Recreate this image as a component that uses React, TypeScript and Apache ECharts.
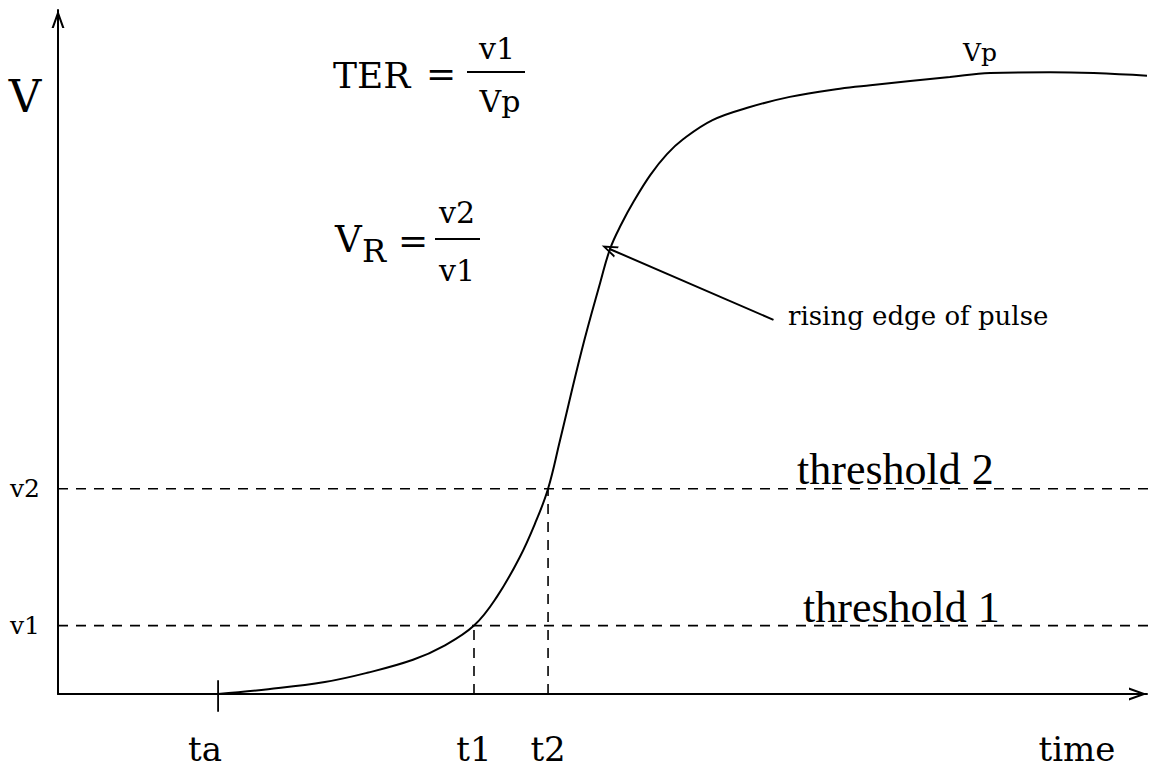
import React, { useEffect, useRef } from "react";
import * as echarts from "echarts";

// ---- data (arbitrary units: time 0..100, voltage 0..100) ----
const timeTickValues = [14.7, 38.2, 45.0];
const timeTickLabels = ["ta", "t1", "t2"];
const levelValues = [10, 30];
const levelLabels = ["v1", "v2"];

const pulseTime = [
  14.7, 19.3, 24.5, 28.4, 32.6, 35.4, 38.2, 40.3, 42.4, 43.9, 45.0, 46.1, 48.1,
  49.8, 50.7, 51.7, 52.9, 54.4, 55.9, 57.4, 60.1, 63.3, 67.2, 71.8, 74.6, 81.9,
  85.6, 91.1, 100,
];
const pulseVolt = [
  0, 0.7, 1.75, 3.1, 5.0, 7.0, 10, 14.2, 20.0, 25.3, 30, 37.1, 50.3, 60.2, 65.1,
  68.6, 72.1, 75.9, 78.9, 81.1, 83.9, 85.7, 87.3, 88.5, 89.0, 90.2, 90.8, 90.9,
  90.4,
];
const pointerFrom = [65.7, 54.7];
const pointerTo = [50.6, 65.1];

const SERIF = "'DejaVu Serif', serif";
const TIMES = "'Liberation Serif', serif";
const ARROW = "path://M5,0 L10,14 L8.3,14 L5,4.6 L1.7,14 L0,14 Z";

export default function App() {
  const ref = useRef<HTMLDivElement>(null);
  useEffect(() => {
    if (!ref.current) return;
    const chart = echarts.init(ref.current, undefined, { renderer: "svg" });
    const labelOf = (vals: number[], labels: string[]) => (v: number) => {
      const i = vals.findIndex((x) => Math.abs(x - v) < 1e-6);
      return i >= 0 ? labels[i] : "";
    };
    const dashed = { color: "#000", width: 1.6, type: [10, 8] as any };
    const txt = (
      text: string,
      x: number,
      y: number,
      fontSize: number,
      align = "left",
      fontFamily = SERIF
    ) => ({
      type: "text",
      x,
      y,
      silent: true,
      style: { text, fontSize, fontFamily, fill: "#000", align, verticalAlign: "middle" },
    });
    const bar = (x1: number, x2: number, y: number) => ({
      type: "line",
      silent: true,
      shape: { x1, y1: y, x2, y2: y },
      style: { stroke: "#000", lineWidth: 2 },
    });
    chart.setOption({
      animation: false,
      backgroundColor: "#fff",
      textStyle: { fontFamily: SERIF, color: "#000" },
      grid: { left: 58, right: 8, top: 10, bottom: 76 },
      xAxis: {
        type: "value",
        min: 0,
        max: 100,
        splitLine: { show: false },
        axisTick: { show: false },
        axisLine: {
          show: true,
          lineStyle: { color: "#000", width: 2 },
          symbol: ["none", ARROW],
          symbolSize: [13, 18],
          symbolOffset: [0, -9],
        },
        axisLabel: {
          customValues: timeTickValues,
          formatter: (v: number) => {
            const s = labelOf(timeTickValues, timeTickLabels)(v);
            return s === "ta" ? "{a|ta}" : s;
          },
          rich: { a: { fontSize: 34, fontFamily: SERIF, color: "#000", padding: [0, 26, 0, 0] } },
          fontSize: 34,
          color: "#000",
          verticalAlign: "middle",
          margin: 55,
        },
      },
      yAxis: {
        type: "value",
        min: 0,
        max: 100,
        splitLine: { show: false },
        axisTick: { show: false },
        axisLine: {
          show: true,
          lineStyle: { color: "#000", width: 2 },
          symbol: ["none", ARROW],
          symbolSize: [13, 18],
          symbolOffset: [0, -9],
        },
        axisLabel: {
          customValues: levelValues,
          formatter: labelOf(levelValues, levelLabels),
          fontSize: 25,
          color: "#000",
          margin: 18,
        },
      },
      series: [
        {
          name: "pulse",
          type: "line",
          data: pulseTime.map((t, i) => [t, pulseVolt[i]]),
          smooth: 0.4,
          showSymbol: false,
          lineStyle: { color: "#000", width: 2 },
          markLine: {
            silent: true,
            symbol: ["none", ARROW],
            symbolSize: [12, 16],
            lineStyle: { color: "#000", width: 2, type: "solid" },
            label: { show: false },
            data: [[{ coord: pointerFrom }, { coord: pointerTo }]],
          },
        },
        {
          name: "threshold 1",
          type: "line",
          data: [[0, levelValues[0]], [100.7, levelValues[0]]],
          showSymbol: false,
          clip: false,
          lineStyle: dashed,
        },
        {
          name: "threshold 2",
          type: "line",
          data: [[0, levelValues[1]], [100.7, levelValues[1]]],
          showSymbol: false,
          clip: false,
          lineStyle: dashed,
        },
        {
          name: "t1 drop",
          type: "line",
          data: [[timeTickValues[1], 0], [timeTickValues[1], levelValues[0]]],
          showSymbol: false,
          lineStyle: dashed,
        },
        {
          name: "t2 drop",
          type: "line",
          data: [[timeTickValues[2], 0], [timeTickValues[2], levelValues[1]]],
          showSymbol: false,
          lineStyle: dashed,
        },
        {
          name: "ta tick",
          type: "line",
          data: [[timeTickValues[0], -2.6], [timeTickValues[0], 2.0]],
          showSymbol: false,
          clip: false,
          lineStyle: { color: "#000", width: 1.8 },
        },
      ],
      graphic: [
        txt("V", 25, 96, 45, "center"),
        txt("time", 1077, 749, 34, "center"),
        txt("Vp", 980, 52, 25, "center"),
        txt("threshold 2", 797, 469, 44, "left", TIMES),
        txt("threshold 1", 803, 607, 44, "left", TIMES),
        txt("rising edge of pulse", 788, 316, 26, "left"),
        // TER = v1 / Vp
        txt("TER", 333, 75, 36),
        txt("=", 441, 73, 36, "center"),
        bar(467, 525, 72),
        txt("v1", 497, 48, 30, "center"),
        txt("Vp", 500, 101, 30, "center"),
        // V_R = v2 / v1
        txt("V", 335, 239, 37),
        txt("R", 362, 251, 32),
        txt("=", 413, 240, 36, "center"),
        bar(435, 480, 239),
        txt("v2", 457, 212, 30, "center"),
        txt("v1", 457, 270, 30, "center"),
      ],
    });
    return () => chart.dispose();
  }, []);
  return (
    <div
      ref={ref}
      style={{ position: "fixed", left: 0, top: 0, width: 1155, height: 770, background: "#fff" }}
    />
  );
}
